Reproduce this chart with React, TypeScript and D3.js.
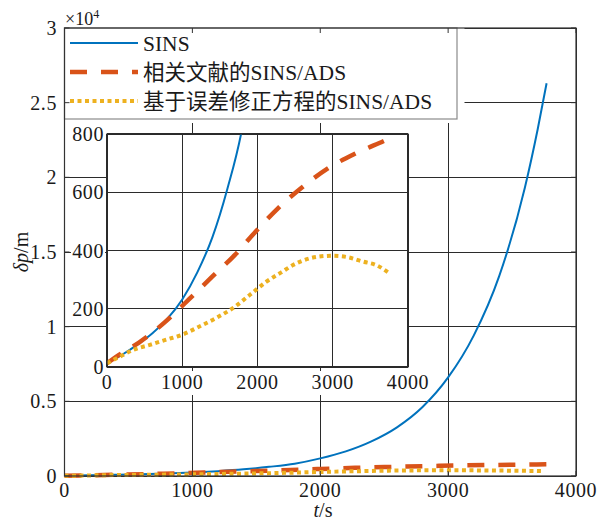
import * as d3 from 'd3';

// time (s) and position error (m)
const timeSins = [0, 200, 400, 600, 800, 1000, 1200, 1400, 1600, 1800, 2000, 2200, 2400, 2600, 2800, 3000, 3200, 3400, 3600, 3700, 3770];
const sinsErr = [13, 42, 76, 115, 165, 232, 325, 445, 612, 825, 1180, 1650, 2320, 3260, 4620, 6600, 9400, 13400, 19300, 23200, 26300];

const timeRef = [0, 200, 425, 770, 1088, 1398, 1700, 1976, 2272, 2590, 2935, 3311, 3687, 3780];
const refErr = [13, 48, 84, 154, 232, 310, 385, 465, 545, 616, 682, 734, 777, 788];

const timeOurs = [0, 175, 350, 570, 790, 1000, 1235, 1456, 1677, 1900, 2118, 2317, 2471, 2692, 2891, 3000, 3200, 3400, 3577, 3753];
const oursErr = [13, 36, 59, 76, 94, 111, 140, 169, 203, 248, 293, 325, 350, 373, 381, 382, 377, 362, 350, 322];

const xTicks = [0, 1000, 2000, 3000, 4000];
const mainYTicks = [0, 0.5, 1, 1.5, 2, 2.5, 3];
const insetYTicks = [0, 200, 400, 600, 800];
const legendLabels = ['SINS', '相关文献的SINS/ADS', '基于误差修正方程的SINS/ADS'];

const colors = ['#0072BD', '#D95319', '#EDB120'];
const dashes = ['none', '17 14', '4 3.5'];
const widths = [2, 4.5, 4];

const FONT = "'Liberation Serif', 'Noto Sans CJK SC', serif";
const GRID = '#2b2b2b';

export default function App() {
  const width = 599;
  const height = 520;

  const x = d3.scaleLinear().domain([0, 4000]).range([64.5, 576]);
  const y = d3.scaleLinear().domain([0, 3]).range([476, 28]);

  const ix = d3.scaleLinear().domain([0, 4000]).range([107, 408]);
  const iy = d3.scaleLinear().domain([0, 800]).range([367, 134]);

  const series = [
    { t: timeSins, v: sinsErr },
    { t: timeRef, v: refErr },
    { t: timeOurs, v: oursErr },
  ];

  const mainLine = d3.line<[number, number]>()
    .x(d => x(d[0]))
    .y(d => y(d[1] / 10000))
    .curve(d3.curveMonotoneX);

  const insetLine = d3.line<[number, number]>()
    .x(d => ix(d[0]))
    .y(d => iy(d[1]))
    .curve(d3.curveMonotoneX);

  const pts = (s: { t: number[]; v: number[] }) => s.t.map((t, i) => [t, s.v[i]] as [number, number]);

  const [x0, x1] = x.range();
  const [y0, y1] = y.range();
  const [ix0, ix1] = ix.range();
  const [iy0, iy1] = iy.range();

  return (
    <svg width={width} height={height} style={{ position: 'absolute', left: 0, top: 0, background: '#fff' }} fontFamily={FONT}>
      <defs>
        <clipPath id="insetClip">
          <rect x={ix0} y={iy1} width={ix1 - ix0} height={iy0 - iy1} />
        </clipPath>
      </defs>

      {/* main grid */}
      <g stroke={GRID} strokeWidth={1} shapeRendering="crispEdges">
        {xTicks.map(t => <line key={'gx' + t} x1={x(t)} x2={x(t)} y1={y1} y2={y0} />)}
        {mainYTicks.map(t => <line key={'gy' + t} x1={x0} x2={x1} y1={y(t)} y2={y(t)} />)}
      </g>

      {/* main series */}
      {series.map((s, i) => (
        <path key={'m' + i} d={mainLine(pts(s)) || ''} fill="none" stroke={colors[i]}
          strokeWidth={widths[i]} strokeDasharray={dashes[i]} />
      ))}

      {/* main tick labels */}
      <g fontSize={20} fill="#1a1a1a" letterSpacing={0.6}>
        {xTicks.map(t => (
          <text key={'xl' + t} x={x(t)} y={497} textAnchor="middle">{t}</text>
        ))}
        {mainYTicks.map(t => (
          <text key={'yl' + t} x={57} y={y(t) + 7} textAnchor="end">{t}</text>
        ))}
      </g>
      <text x={65} y={25} fontSize={18} fill="#1a1a1a">×10<tspan fontSize={12} dy={-7}>4</tspan></text>

      {/* axis titles */}
      <text x={323} y={517} fontSize={20} textAnchor="middle" fill="#1a1a1a">
        <tspan fontStyle="italic">t</tspan>/s
      </text>
      <text transform={`translate(28,${(y0 + y1) / 2}) rotate(-90)`} fontSize={20} textAnchor="middle" fill="#1a1a1a">
        <tspan fontStyle="italic">δp</tspan>/m
      </text>

      {/* inset */}
      <rect x={ix0} y={iy1} width={ix1 - ix0} height={iy0 - iy1} fill="#fff" />
      <g stroke={GRID} strokeWidth={1.2} shapeRendering="crispEdges">
        {xTicks.map(t => <line key={'igx' + t} x1={ix(t)} x2={ix(t)} y1={iy1} y2={iy0} />)}
        {insetYTicks.map(t => <line key={'igy' + t} x1={ix0} x2={ix1} y1={iy(t)} y2={iy(t)} />)}
      </g>
      <g clipPath="url(#insetClip)">
        {series.map((s, i) => (
          <path key={'i' + i} d={insetLine(pts(s)) || ''} fill="none" stroke={colors[i]}
            strokeWidth={widths[i]} strokeDasharray={dashes[i]} />
        ))}
      </g>
      <rect x={ix0} y={iy1} width={ix1 - ix0} height={iy0 - iy1} fill="none" stroke={GRID} strokeWidth={1.2} />
      <g fontSize={20} fill="#1a1a1a" letterSpacing={0.6}>
        {xTicks.map(t => (
          <g key={'ixl' + t}>
            <rect x={ix(t) - 20} y={iy0 + 4} width={40} height={24} fill="#fff" />
            <text x={ix(t)} y={iy0 + 22} textAnchor="middle">{t}</text>
          </g>
        ))}
        {insetYTicks.map(t => (
          <g key={'iyl' + t}>
            <rect x={ix0 - 36} y={iy(t) - 9} width={34} height={18} fill="#fff" />
            <text x={ix0 - 3} y={iy(t) + 7} textAnchor="end">{t}</text>
          </g>
        ))}
      </g>

      {/* legend */}
      <rect x={x0} y={y1} width={400} height={95} fill="#fff" />
      <rect x={x0} y={y1} width={392.5} height={91} fill="none" stroke="#8a8a8a" strokeWidth={1.2} />
      {legendLabels.map((lab, i) => {
        const ly = 43 + i * 29;
        return (
          <g key={'lg' + i}>
            <line x1={70} x2={138} y1={ly} y2={ly} stroke={colors[i]} strokeWidth={widths[i]}
              strokeDasharray={dashes[i]} />
            <text x={143} y={ly + 8} fontSize={21.5} fill="#1a1a1a">{lab}</text>
          </g>
        );
      })}

      {/* main axes box and inward ticks */}
      <rect x={x0} y={y1} width={x1 - x0} height={y0 - y1} fill="none" stroke="#333" strokeWidth={1.2} />
      <g stroke="#333" strokeWidth={1}>
        {xTicks.map(t => (
          <g key={'tx' + t}>
            <line x1={x(t)} x2={x(t)} y1={y0} y2={y0 - 5} />
            <line x1={x(t)} x2={x(t)} y1={y1} y2={y1 + 5} />
          </g>
        ))}
        {mainYTicks.map(t => (
          <g key={'ty' + t}>
            <line x1={x0} x2={x0 + 5} y1={y(t)} y2={y(t)} />
            <line x1={x1} x2={x1 - 5} y1={y(t)} y2={y(t)} />
          </g>
        ))}
      </g>
    </svg>
  );
}
